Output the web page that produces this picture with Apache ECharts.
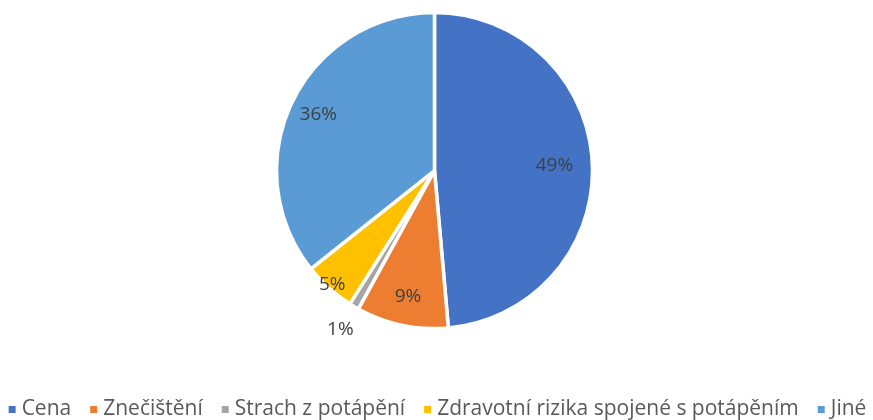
<!DOCTYPE html>
<html>
<head>
<meta charset="utf-8">
<script src="https://cdn.jsdelivr.net/npm/echarts@6/dist/echarts.min.js"></script>
<style>
  html, body { margin: 0; padding: 0; background: #fff; }
  #chart { width: 873px; height: 420px; }
</style>
</head>
<body>
<div id="chart"></div>
<script>
// kategorie a podíly
const categories = ['Cena', 'Znečištění', 'Strach z potápění', 'Zdravotní rizika spojené s potápěním', 'Jiné']
const shares = [48.6, 9.4, 1.0, 5.3, 35.7]
const colors = ['#4472C4', '#ED7D31', '#A5A5A5', '#FFC000', '#5B9BD5']

const center = [434.5, 170.5]
const radius = 158

const pieData = categories.map((name, i) => ({
  name,
  value: shares[i],
  itemStyle: { color: colors[i] }
}))

const pctLabel = p => Math.round(p.percent) + '%'

// neviditelné řady jen pro umístění popisků
const labelSeries = (r, showIdx) => ({
  type: 'pie',
  center,
  radius: [0, r],
  silent: true,
  legendHoverLink: false,
  data: categories.map((name, i) => ({
    name,
    value: shares[i],
    itemStyle: { color: 'rgba(0,0,0,0)' },
    label: { show: showIdx.includes(i) }
  })),
  itemStyle: { borderWidth: 0 },
  label: {
    position: 'inside',
    formatter: pctLabel,
    color: '#404040',
    fontSize: 19,
    fontFamily: 'Open Sans'
  },
  labelLine: { show: false },
  emphasis: { disabled: true },
  z: 3
})

const chart = echarts.init(document.getElementById('chart'))
chart.setOption({
  animation: false,
  color: colors,
  legend: {
    data: categories,
    top: 394,
    left: 'center',
    icon: 'rect',
    itemWidth: 9,
    itemHeight: 9,
    itemGap: 17,
    textStyle: { color: '#595959', fontSize: 21, fontFamily: 'Open Sans' }
  },
  series: [
    {
      type: 'pie',
      center,
      radius: [0, radius],
      startAngle: 90,
      clockwise: true,
      data: pieData,
      itemStyle: { borderColor: '#fff', borderWidth: 3.5 },
      label: { show: false },
      labelLine: { show: false },
      z: 2
    },
    labelSeries(234, [0]),
    labelSeries(252, [1, 4]),
    labelSeries(300, [3]),
    labelSeries(364, [2])
  ]
})
</script>
</body>
</html>
